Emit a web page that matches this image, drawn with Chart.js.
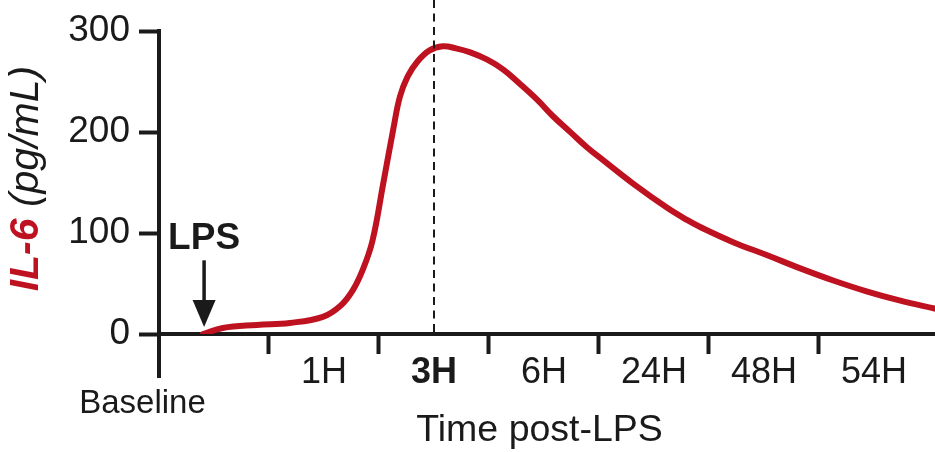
<!DOCTYPE html>
<html><head><meta charset="utf-8">
<script src="https://cdn.jsdelivr.net/npm/chart.js@4/dist/chart.umd.min.js"></script>
<style>html,body{margin:0;padding:0;background:#fff;overflow:hidden}#wrap{width:935px;height:452px;position:relative}</style>
</head><body><div id="wrap"><canvas id="c" width="935" height="452"></canvas></div>
<script>
// time position in axis-segment units (segment boundaries = tick marks 1..6)
const timeX = [0.40,0.58,0.89,1.19,1.49,1.65,1.76,1.85,1.94,2.04,2.13,2.19,2.26,2.35,2.46,2.58,2.70,2.83,2.98,3.13,3.28,3.44,3.58,3.74,3.89,4.04,4.31,4.62,4.80,4.92,5.22,5.53,5.83,6.13,6.44,6.74,7.06];
const il6   = [0,6,9,11,17,28,43,63,92,150,203,235,255,270,281,285,283,279,272,262,248,232,216,200,185,172,149,125,113,106,91,78,65,53,42,33,25];
const yTicks = [0,100,200,300];
const xTickMarks = [1,2,3,4,5,6];
const xLabelPos = [1.5,2.5,3.5,4.5,5.5,6.5];
const xLabels = ['1H','3H','6H','24H','48H','54H'];
const boldLabel = '3H';
const baselinePos = -0.15;
const baselineText = 'Baseline';
const peakX = 2.5;
const lpsX = 0.41;
const lpsTextY = 94, arrowTopY = 73, arrowTipY = 7;
const xTitle = 'Time post-LPS';
const xTitlePos = 3.46;

const RED = '#BF1220';
const INK = '#1a1a1a';
const FONT = '"Liberation Sans", Arial, Helvetica, sans-serif';

const annot = {
  id: 'annot',
  afterDatasetsDraw(chart) {
    const {ctx, scales: {x, y}} = chart;
    ctx.save();
    const px = Math.round(x.getPixelForValue(peakX));
    ctx.strokeStyle = INK; ctx.lineWidth = 2; ctx.setLineDash([8, 5.5]);
    ctx.beginPath(); ctx.moveTo(px, 0); ctx.lineTo(px, y.bottom); ctx.stroke();
    ctx.setLineDash([]);
    ctx.restore();
  },
  afterDraw(chart) {
    const {ctx, scales: {x, y}} = chart;
    ctx.save();
    ctx.strokeStyle = INK; ctx.lineWidth = 4;
    ctx.beginPath(); ctx.moveTo(x.left, y.bottom); ctx.lineTo(x.left, y.bottom + 44); ctx.stroke();
    const lx = x.getPixelForValue(lpsX);
    ctx.fillStyle = INK; ctx.font = 'bold 37px ' + FONT;
    ctx.textAlign = 'center'; ctx.textBaseline = 'middle';
    ctx.fillText('LPS', lx, y.getPixelForValue(lpsTextY));
    const tip = y.getPixelForValue(arrowTipY), top = y.getPixelForValue(arrowTopY);
    ctx.lineWidth = 3.5;
    ctx.beginPath(); ctx.moveTo(lx, top); ctx.lineTo(lx, tip - 20); ctx.stroke();
    ctx.beginPath(); ctx.moveTo(lx, tip); ctx.lineTo(lx - 11.5, tip - 27); ctx.lineTo(lx + 11.5, tip - 27); ctx.closePath(); ctx.fill();
    ctx.font = '33px ' + FONT; ctx.fillStyle = INK;
    ctx.fillText(baselineText, x.getPixelForValue(baselinePos), 404);
    ctx.font = '37.5px ' + FONT;
    ctx.fillText(xTitle, x.getPixelForValue(xTitlePos), 431);
    const cy = (y.top + y.bottom) / 2 - 4;
    ctx.translate(27, cy); ctx.rotate(-Math.PI / 2);
    const f1 = 'italic bold 41px ' + FONT, f2 = 'italic 41px ' + FONT;
    ctx.font = f1; const w1 = ctx.measureText('IL-6').width;
    ctx.font = f2; const w2 = ctx.measureText(' (pg/mL)').width;
    const sx = -(w1 + w2) / 2;
    ctx.textAlign = 'left';
    ctx.font = f1; ctx.fillStyle = RED; ctx.fillText('IL-6', sx, 0);
    ctx.font = f2; ctx.fillStyle = INK; ctx.fillText(' (pg/mL)', sx + w1, 0);
    ctx.restore();
  }
};

new Chart(document.getElementById('c'), {
  type: 'line',
  data: {
    datasets: [{
      data: timeX.map((t, i) => ({x: t, y: il6[i]})),
      borderColor: RED, borderWidth: 6, pointRadius: 0, borderCapStyle: 'round', borderJoinStyle: 'round',
      tension: 0.4, fill: false
    }]
  },
  options: {
    responsive: false, animation: false, devicePixelRatio: 1,
    layout: {padding: {top: 29, left: 0, right: 0, bottom: 0}},
    plugins: {legend: {display: false}, tooltip: {enabled: false}},
    scales: {
      x: {
        type: 'linear', min: 0, max: 7.055,
        afterBuildTicks: s => { s.ticks = [...xTickMarks, ...xLabelPos].sort((a, b) => a - b).map(v => ({value: v})); },
        afterFit: s => { s.height = 118; },
        border: {display: true, color: INK, width: 4},
        grid: {drawOnChartArea: false, drawTicks: true, tickLength: 20, tickWidth: 4,
               color: c => (c.tick && xTickMarks.includes(c.tick.value)) ? INK : 'rgba(0,0,0,0)'},
        ticks: {
          autoSkip: false, maxRotation: 0, minRotation: 0, padding: -3, color: INK,
          font: c => ({family: FONT, size: 36, weight: (c.tick && xLabels[xLabelPos.indexOf(c.tick.value)] === boldLabel) ? 'bold' : 'normal'}),
          callback: v => { const i = xLabelPos.indexOf(v); return i >= 0 ? xLabels[i] : ''; }
        }
      },
      y: {
        min: 0, max: 300,
        afterBuildTicks: s => { s.ticks = yTicks.map(v => ({value: v})); },
        afterFit: s => { s.width = 159; },
        border: {display: true, color: INK, width: 4},
        grid: {drawOnChartArea: false, drawTicks: true, tickLength: 20, tickWidth: 4, color: INK},
        ticks: {padding: 9, color: INK, font: {family: FONT, size: 37}}
      }
    }
  },
  plugins: [annot]
});
</script>
</body></html>
